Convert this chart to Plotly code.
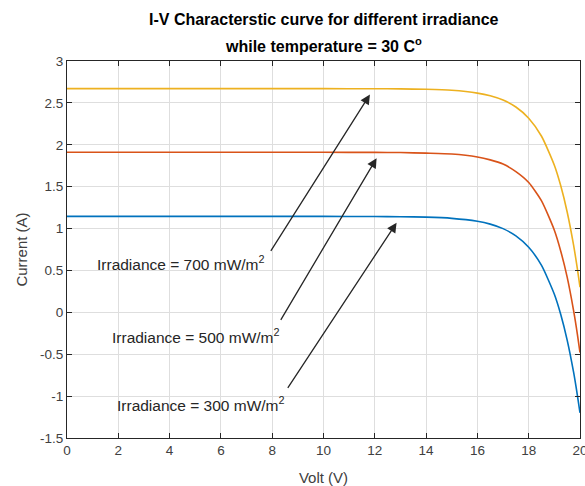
import plotly.graph_objects as go

# Voltage samples (V)
volt = [0, 2, 4, 6, 8, 10, 12, 13, 14, 15, 16, 16.5, 17, 17.5, 18, 18.5, 19, 19.25, 19.5, 19.75, 19.9, 20]

# Current (A)
i_700 = [2.67, 2.67, 2.67, 2.67, 2.67, 2.67, 2.669, 2.667, 2.662, 2.65, 2.617, 2.585, 2.534, 2.451, 2.317, 2.102, 1.756, 1.51, 1.198, 0.802, 0.515, 0.30]
i_500 = [1.91, 1.91, 1.91, 1.91, 1.91, 1.91, 1.909, 1.907, 1.90, 1.89, 1.855, 1.82, 1.77, 1.68, 1.55, 1.33, 0.98, 0.73, 0.42, 0.02, -0.265, -0.48]
i_300 = [1.145, 1.145, 1.145, 1.145, 1.145, 1.145, 1.144, 1.141, 1.136, 1.122, 1.087, 1.053, 0.999, 0.913, 0.777, 0.56, 0.216, -0.026, -0.331, -0.715, -0.993, -1.20]

series_names = ["Irradiance = 300 mW/m<sup>2</sup>", "Irradiance = 500 mW/m<sup>2</sup>", "Irradiance = 700 mW/m<sup>2</sup>"]
series_colors = ["#0072BD", "#D95319", "#EDB120"]

# Annotation labels: (text x, text y), arrow tail and arrow head in data units
label_x = [5.24, 5.03, 4.44]
label_y = [-1.10, -0.286, 0.585]
tail_x = [8.57, 8.30, 7.91]
tail_y = [-0.92, -0.107, 0.716]
head_x = [12.85, 12.07, 11.81]
head_y = [1.07, 1.84, 2.60]

x_ticks = list(range(0, 21, 2))
y_ticks = [-1.5, -1, -0.5, 0, 0.5, 1, 1.5, 2, 2.5, 3]

fig = go.Figure()
for vals, col in zip([i_300, i_500, i_700], series_colors):
    fig.add_trace(go.Scatter(x=volt, y=vals, mode="lines", line=dict(color=col, width=1.6, shape="spline", smoothing=0.6),
                             showlegend=False, hoverinfo="skip"))

font_family = "Liberation Sans, Arial, sans-serif"
annotations = []
for i in range(3):
    annotations.append(dict(x=head_x[i], y=head_y[i], ax=tail_x[i], ay=tail_y[i], xref="x", yref="y",
                            axref="x", ayref="y", text="", showarrow=True, arrowhead=2, arrowsize=1.5,
                            arrowwidth=1.3, arrowcolor="#262626"))
    annotations.append(dict(x=label_x[i], y=label_y[i], xref="x", yref="y", text=series_names[i],
                            showarrow=False, font=dict(family=font_family, size=15.5, color="#262626")))

annotations.append(dict(x=0.5, y=1.1088, xref="paper", yref="paper", yanchor="middle", showarrow=False,
                        text="<b>I-V Characterstic curve for different irradiance</b>",
                        font=dict(family=font_family, size=16, color="#000000")))
annotations.append(dict(x=0.5, y=1.0424, xref="paper", yref="paper", yanchor="middle", showarrow=False,
                        text="<b>while temperature = 30 C<sup>o</sup></b>",
                        font=dict(family=font_family, size=16, color="#000000")))

axis_common = dict(showline=True, linecolor="#262626", linewidth=1, mirror="ticks", ticks="inside",
                   ticklen=5, tickcolor="#262626", showgrid=True, gridcolor="#dedede", gridwidth=1,
                   zeroline=False, ticklabeloverflow="allow",
                   tickfont=dict(family=font_family, size=13.5, color="#404040"))

fig.update_layout(
    width=585, height=486,
    margin=dict(l=67, r=5, t=61, b=48, autoexpand=False),
    paper_bgcolor="white", plot_bgcolor="white",
    annotations=annotations,
    xaxis=dict(range=[0, 20], tickvals=x_ticks, ticktext=[str(v) for v in x_ticks],
               title=dict(text="Volt (V)", font=dict(family=font_family, size=15, color="#404040"), standoff=15),
               **axis_common),
    yaxis=dict(range=[-1.5, 3], tickvals=y_ticks, ticktext=[("-" if v < 0 else "") + ("%g" % abs(v)) for v in y_ticks],
               title=dict(text="Current (A)", font=dict(family=font_family, size=15, color="#404040"), standoff=8),
               **axis_common),
)

fig.write_html("out.html", config={"displayModeBar": False},
               post_script="document.body.style.margin='0';document.body.style.padding='0';")
